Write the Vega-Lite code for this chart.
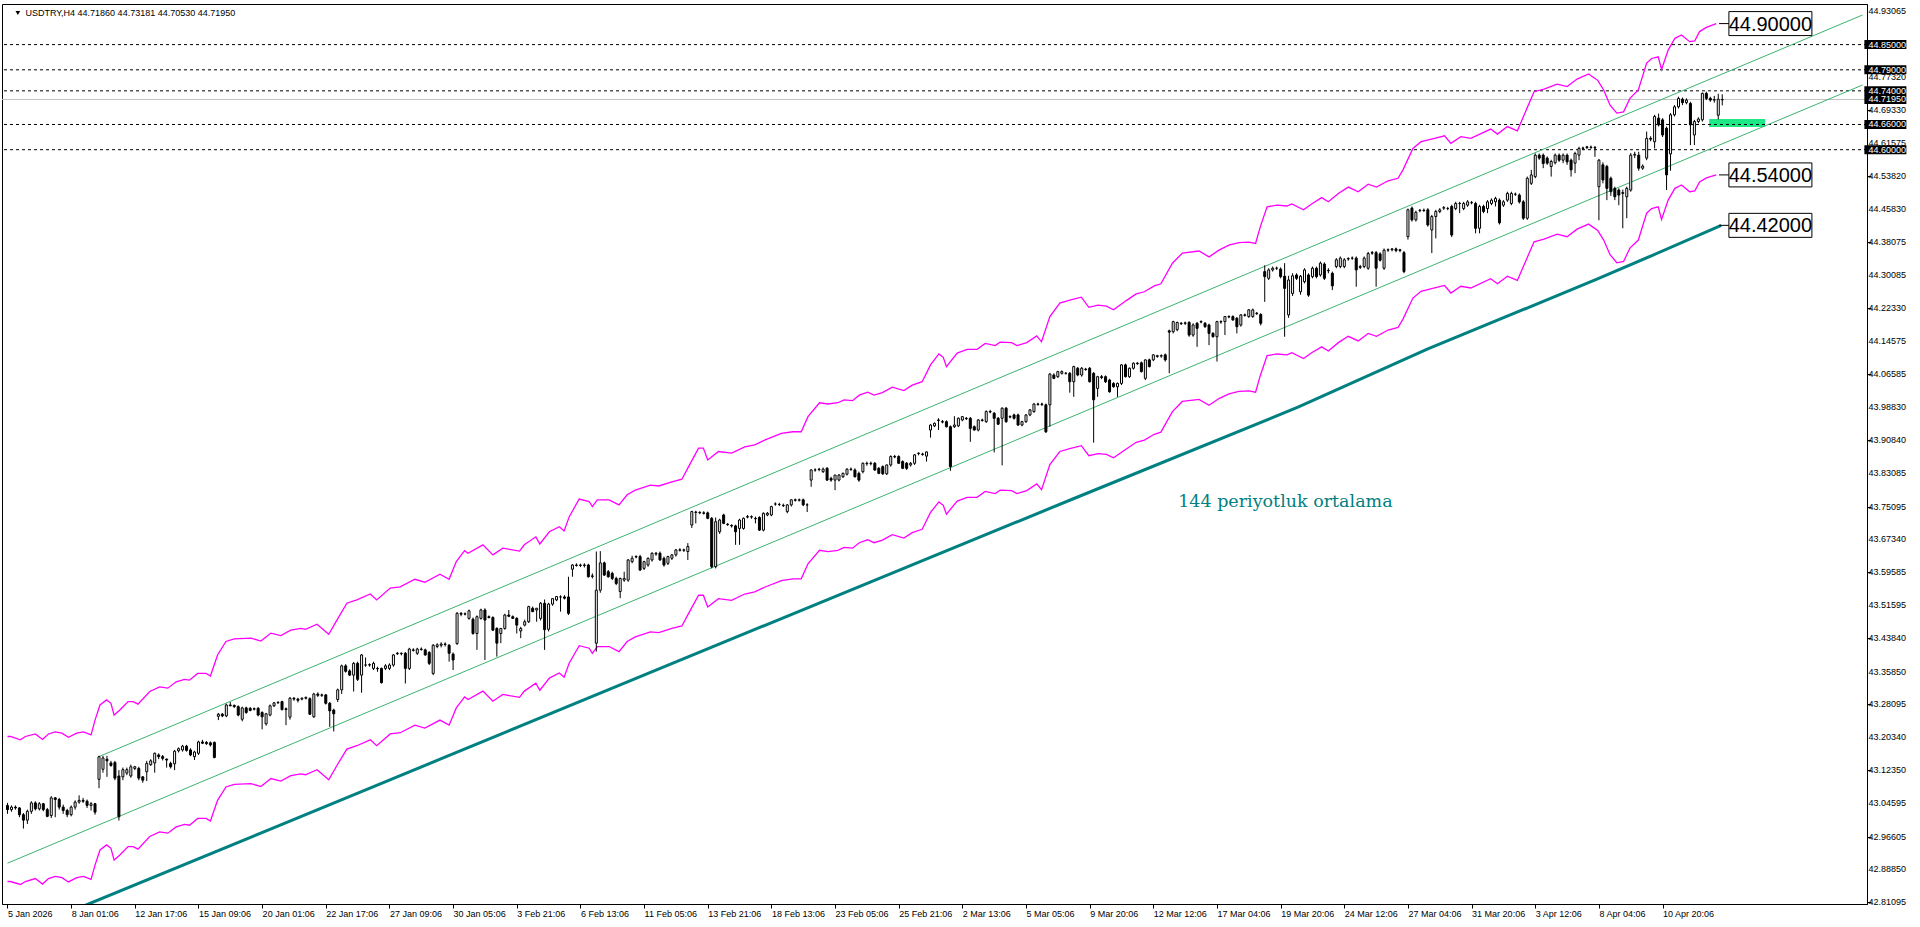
{
"$schema": "https://vega.github.io/schema/vega-lite/v6.json",
"autosize": {"type": "none"},
"width": 1865, "height": 900,
"padding": {"left": 2, "top": 4, "right": 53, "bottom": 23},
"background": "white",
"config": {
  "view": {"stroke": "black", "strokeWidth": 1},
  "axis": {"labelFont": "Liberation Sans", "labelFontSize": 9, "labelColor": "black", "tickColor": "black", "domainColor": "black", "grid": false, "tickSize": 4, "labelOverlap": false, "labelFlush": false}
},
"datasets": {
"k": [
{"n":0,"o":43.040,"h":43.046,"l":43.020,"c":43.030},{"n":1,"o":43.030,"h":43.040,"l":43.025,"c":43.036},{"n":2,"o":43.036,"h":43.040,"l":43.030,"c":43.034},{"n":3,"o":43.034,"h":43.036,"l":43.012,"c":43.018},{"n":4,"o":43.018,"h":43.022,"l":42.985,"c":43.005},{"n":5,"o":43.005,"h":43.030,"l":42.996,"c":43.026},{"n":6,"o":43.026,"h":43.050,"l":43.020,"c":43.046},{"n":7,"o":43.046,"h":43.050,"l":43.028,"c":43.032},{"n":8,"o":43.032,"h":43.048,"l":43.028,"c":43.044},{"n":9,"o":43.044,"h":43.046,"l":43.026,"c":43.030},
{"n":10,"o":43.030,"h":43.034,"l":43.012,"c":43.014},{"n":11,"o":43.016,"h":43.062,"l":43.010,"c":43.058},{"n":12,"o":43.058,"h":43.060,"l":43.012,"c":43.054},{"n":13,"o":43.054,"h":43.058,"l":43.030,"c":43.036},{"n":14,"o":43.036,"h":43.042,"l":43.020,"c":43.028},{"n":15,"o":43.028,"h":43.032,"l":43.012,"c":43.018},{"n":16,"o":43.018,"h":43.040,"l":43.014,"c":43.036},{"n":17,"o":43.036,"h":43.052,"l":43.030,"c":43.048},{"n":18,"o":43.048,"h":43.064,"l":43.044,"c":43.052},{"n":19,"o":43.052,"h":43.058,"l":43.046,"c":43.050},
{"n":20,"o":43.050,"h":43.054,"l":43.034,"c":43.040},{"n":21,"o":43.040,"h":43.048,"l":43.028,"c":43.044},{"n":22,"o":43.044,"h":43.046,"l":43.018,"c":43.024},{"n":23,"o":43.102,"h":43.158,"l":43.081,"c":43.156},{"n":24,"o":43.126,"h":43.158,"l":43.118,"c":43.153},{"n":25,"o":43.150,"h":43.158,"l":43.108,"c":43.146},{"n":26,"o":43.141,"h":43.146,"l":43.132,"c":43.135},{"n":27,"o":43.142,"h":43.146,"l":43.100,"c":43.105},{"n":28,"o":43.110,"h":43.124,"l":43.004,"c":43.013},{"n":29,"o":43.108,"h":43.130,"l":43.100,"c":43.125},
{"n":30,"o":43.117,"h":43.130,"l":43.112,"c":43.125},{"n":31,"o":43.110,"h":43.137,"l":43.106,"c":43.132},{"n":32,"o":43.128,"h":43.134,"l":43.124,"c":43.132},{"n":33,"o":43.128,"h":43.132,"l":43.100,"c":43.105},{"n":34,"o":43.108,"h":43.110,"l":43.094,"c":43.100},{"n":35,"o":43.120,"h":43.146,"l":43.098,"c":43.140},{"n":36,"o":43.137,"h":43.150,"l":43.134,"c":43.146},{"n":37,"o":43.141,"h":43.166,"l":43.118,"c":43.164},{"n":38,"o":43.160,"h":43.164,"l":43.150,"c":43.156},{"n":39,"o":43.156,"h":43.160,"l":43.147,"c":43.152},
{"n":40,"o":43.150,"h":43.152,"l":43.130,"c":43.148},{"n":41,"o":43.140,"h":43.144,"l":43.128,"c":43.132},{"n":42,"o":43.139,"h":43.172,"l":43.124,"c":43.169},{"n":43,"o":43.170,"h":43.178,"l":43.166,"c":43.175},{"n":44,"o":43.172,"h":43.184,"l":43.168,"c":43.181},{"n":45,"o":43.181,"h":43.184,"l":43.168,"c":43.171},{"n":46,"o":43.172,"h":43.176,"l":43.157,"c":43.160},{"n":47,"o":43.156,"h":43.170,"l":43.148,"c":43.167},{"n":48,"o":43.164,"h":43.194,"l":43.160,"c":43.191},{"n":49,"o":43.191,"h":43.196,"l":43.186,"c":43.188},
{"n":50,"o":43.190,"h":43.193,"l":43.184,"c":43.187},{"n":51,"o":43.189,"h":43.192,"l":43.180,"c":43.184},{"n":52,"o":43.190,"h":43.192,"l":43.152,"c":43.154},{"n":53,"o":43.252,"h":43.260,"l":43.243,"c":43.257},{"n":54,"o":43.257,"h":43.260,"l":43.250,"c":43.253},{"n":55,"o":43.253,"h":43.282,"l":43.250,"c":43.279},{"n":56,"o":43.279,"h":43.286,"l":43.276,"c":43.277},{"n":57,"o":43.278,"h":43.280,"l":43.272,"c":43.275},{"n":58,"o":43.275,"h":43.278,"l":43.252,"c":43.255},{"n":59,"o":43.245,"h":43.275,"l":43.240,"c":43.272},
{"n":60,"o":43.272,"h":43.275,"l":43.258,"c":43.261},{"n":61,"o":43.271,"h":43.274,"l":43.264,"c":43.266},{"n":62,"o":43.270,"h":43.273,"l":43.266,"c":43.269},{"n":63,"o":43.271,"h":43.274,"l":43.252,"c":43.255},{"n":64,"o":43.261,"h":43.264,"l":43.221,"c":43.251},{"n":65,"o":43.234,"h":43.260,"l":43.230,"c":43.258},{"n":66,"o":43.255,"h":43.280,"l":43.252,"c":43.277},{"n":67,"o":43.277,"h":43.286,"l":43.274,"c":43.284},{"n":68,"o":43.285,"h":43.288,"l":43.282,"c":43.284},{"n":69,"o":43.287,"h":43.289,"l":43.266,"c":43.268},
{"n":70,"o":43.270,"h":43.273,"l":43.231,"c":43.268},{"n":71,"o":43.250,"h":43.298,"l":43.244,"c":43.295},{"n":72,"o":43.295,"h":43.298,"l":43.289,"c":43.293},{"n":73,"o":43.293,"h":43.296,"l":43.285,"c":43.290},{"n":74,"o":43.293,"h":43.297,"l":43.290,"c":43.295},{"n":75,"o":43.295,"h":43.299,"l":43.292,"c":43.297},{"n":76,"o":43.294,"h":43.297,"l":43.255,"c":43.257},{"n":77,"o":43.251,"h":43.308,"l":43.248,"c":43.305},{"n":78,"o":43.305,"h":43.309,"l":43.298,"c":43.302},{"n":79,"o":43.302,"h":43.306,"l":43.298,"c":43.303},
{"n":80,"o":43.303,"h":43.305,"l":43.280,"c":43.283},{"n":81,"o":43.283,"h":43.286,"l":43.227,"c":43.265},{"n":82,"o":43.267,"h":43.270,"l":43.216,"c":43.258},{"n":83,"o":43.292,"h":43.318,"l":43.286,"c":43.315},{"n":84,"o":43.315,"h":43.375,"l":43.305,"c":43.372},{"n":85,"o":43.372,"h":43.376,"l":43.356,"c":43.359},{"n":86,"o":43.360,"h":43.364,"l":43.348,"c":43.350},{"n":87,"o":43.350,"h":43.381,"l":43.311,"c":43.378},{"n":88,"o":43.378,"h":43.382,"l":43.336,"c":43.340},{"n":89,"o":43.350,"h":43.400,"l":43.308,"c":43.398},
{"n":90,"o":43.374,"h":43.392,"l":43.370,"c":43.374},{"n":91,"o":43.374,"h":43.378,"l":43.370,"c":43.375},{"n":92,"o":43.366,"h":43.382,"l":43.362,"c":43.378},{"n":93,"o":43.366,"h":43.370,"l":43.358,"c":43.365},{"n":94,"o":43.366,"h":43.368,"l":43.330,"c":43.332},{"n":95,"o":43.366,"h":43.376,"l":43.362,"c":43.372},{"n":96,"o":43.366,"h":43.378,"l":43.362,"c":43.374},{"n":97,"o":43.374,"h":43.400,"l":43.370,"c":43.398},{"n":98,"o":43.402,"h":43.405,"l":43.398,"c":43.401},{"n":99,"o":43.401,"h":43.404,"l":43.397,"c":43.402},
{"n":100,"o":43.402,"h":43.405,"l":43.330,"c":43.366},{"n":101,"o":43.366,"h":43.415,"l":43.362,"c":43.412},{"n":102,"o":43.410,"h":43.414,"l":43.406,"c":43.409},{"n":103,"o":43.402,"h":43.415,"l":43.398,"c":43.412},{"n":104,"o":43.412,"h":43.416,"l":43.408,"c":43.411},{"n":105,"o":43.410,"h":43.413,"l":43.396,"c":43.398},{"n":106,"o":43.404,"h":43.407,"l":43.374,"c":43.378},{"n":107,"o":43.354,"h":43.424,"l":43.350,"c":43.421},{"n":108,"o":43.418,"h":43.426,"l":43.414,"c":43.422},{"n":109,"o":43.421,"h":43.428,"l":43.416,"c":43.424},
{"n":110,"o":43.424,"h":43.428,"l":43.418,"c":43.423},{"n":111,"o":43.421,"h":43.424,"l":43.382,"c":43.402},{"n":112,"o":43.400,"h":43.404,"l":43.362,"c":43.386},{"n":113,"o":43.425,"h":43.500,"l":43.422,"c":43.497},{"n":114,"o":43.497,"h":43.500,"l":43.490,"c":43.495},{"n":115,"o":43.495,"h":43.499,"l":43.492,"c":43.496},{"n":116,"o":43.485,"h":43.506,"l":43.482,"c":43.503},{"n":117,"o":43.483,"h":43.487,"l":43.446,"c":43.449},{"n":118,"o":43.449,"h":43.492,"l":43.410,"c":43.489},{"n":119,"o":43.485,"h":43.508,"l":43.482,"c":43.505},
{"n":120,"o":43.505,"h":43.509,"l":43.386,"c":43.481},{"n":121,"o":43.489,"h":43.492,"l":43.485,"c":43.487},{"n":122,"o":43.487,"h":43.490,"l":43.455,"c":43.457},{"n":123,"o":43.461,"h":43.464,"l":43.394,"c":43.426},{"n":124,"o":43.449,"h":43.462,"l":43.426,"c":43.461},{"n":125,"o":43.461,"h":43.496,"l":43.458,"c":43.493},{"n":126,"o":43.493,"h":43.505,"l":43.488,"c":43.490},{"n":127,"o":43.489,"h":43.492,"l":43.484,"c":43.485},{"n":128,"o":43.485,"h":43.488,"l":43.449,"c":43.469},{"n":129,"o":43.455,"h":43.465,"l":43.438,"c":43.461},
{"n":130,"o":43.469,"h":43.482,"l":43.466,"c":43.477},{"n":131,"o":43.477,"h":43.515,"l":43.474,"c":43.513},{"n":132,"o":43.509,"h":43.513,"l":43.500,"c":43.501},{"n":133,"o":43.505,"h":43.510,"l":43.477,"c":43.509},{"n":134,"o":43.485,"h":43.524,"l":43.480,"c":43.521},{"n":135,"o":43.521,"h":43.530,"l":43.410,"c":43.458},{"n":136,"o":43.459,"h":43.522,"l":43.454,"c":43.519},{"n":137,"o":43.519,"h":43.533,"l":43.515,"c":43.532},{"n":138,"o":43.529,"h":43.538,"l":43.526,"c":43.537},{"n":139,"o":43.536,"h":43.540,"l":43.501,"c":43.536},
{"n":140,"o":43.536,"h":43.540,"l":43.530,"c":43.533},{"n":141,"o":43.536,"h":43.584,"l":43.493,"c":43.497},{"n":142,"o":43.602,"h":43.614,"l":43.584,"c":43.612},{"n":143,"o":43.612,"h":43.616,"l":43.608,"c":43.611},{"n":144,"o":43.611,"h":43.615,"l":43.607,"c":43.612},{"n":145,"o":43.612,"h":43.616,"l":43.606,"c":43.611},{"n":146,"o":43.612,"h":43.615,"l":43.582,"c":43.584},{"n":147,"o":43.586,"h":43.592,"l":43.580,"c":43.585},{"n":148,"o":43.426,"h":43.644,"l":43.406,"c":43.552},{"n":149,"o":43.552,"h":43.645,"l":43.546,"c":43.617},
{"n":150,"o":43.617,"h":43.620,"l":43.586,"c":43.588},{"n":151,"o":43.596,"h":43.600,"l":43.582,"c":43.584},{"n":152,"o":43.592,"h":43.596,"l":43.576,"c":43.580},{"n":153,"o":43.580,"h":43.584,"l":43.564,"c":43.568},{"n":154,"o":43.549,"h":43.582,"l":43.533,"c":43.580},{"n":155,"o":43.576,"h":43.596,"l":43.572,"c":43.580},{"n":156,"o":43.576,"h":43.626,"l":43.572,"c":43.624},{"n":157,"o":43.620,"h":43.634,"l":43.616,"c":43.628},{"n":158,"o":43.632,"h":43.635,"l":43.628,"c":43.631},{"n":159,"o":43.632,"h":43.636,"l":43.598,"c":43.600},
{"n":160,"o":43.604,"h":43.622,"l":43.600,"c":43.620},{"n":161,"o":43.612,"h":43.630,"l":43.608,"c":43.628},{"n":162,"o":43.624,"h":43.642,"l":43.620,"c":43.640},{"n":163,"o":43.638,"h":43.643,"l":43.634,"c":43.640},{"n":164,"o":43.640,"h":43.644,"l":43.622,"c":43.624},{"n":165,"o":43.628,"h":43.632,"l":43.608,"c":43.612},{"n":166,"o":43.616,"h":43.634,"l":43.612,"c":43.632},{"n":167,"o":43.628,"h":43.638,"l":43.624,"c":43.636},{"n":168,"o":43.636,"h":43.650,"l":43.632,"c":43.648},{"n":169,"o":43.648,"h":43.652,"l":43.644,"c":43.647},
{"n":170,"o":43.647,"h":43.651,"l":43.643,"c":43.648},{"n":171,"o":43.644,"h":43.664,"l":43.624,"c":43.656},{"n":172,"o":43.707,"h":43.741,"l":43.700,"c":43.739},{"n":173,"o":43.737,"h":43.741,"l":43.711,"c":43.738},{"n":174,"o":43.737,"h":43.740,"l":43.733,"c":43.736},{"n":175,"o":43.736,"h":43.740,"l":43.732,"c":43.735},{"n":176,"o":43.736,"h":43.739,"l":43.721,"c":43.723},{"n":177,"o":43.723,"h":43.726,"l":43.604,"c":43.608},{"n":178,"o":43.608,"h":43.725,"l":43.604,"c":43.715},{"n":179,"o":43.691,"h":43.722,"l":43.686,"c":43.719},
{"n":180,"o":43.731,"h":43.734,"l":43.709,"c":43.711},{"n":181,"o":43.709,"h":43.712,"l":43.705,"c":43.708},{"n":182,"o":43.706,"h":43.709,"l":43.701,"c":43.705},{"n":183,"o":43.705,"h":43.708,"l":43.660,"c":43.691},{"n":184,"o":43.699,"h":43.722,"l":43.660,"c":43.719},{"n":185,"o":43.699,"h":43.725,"l":43.696,"c":43.723},{"n":186,"o":43.727,"h":43.731,"l":43.723,"c":43.726},{"n":187,"o":43.726,"h":43.730,"l":43.722,"c":43.727},{"n":188,"o":43.723,"h":43.727,"l":43.711,"c":43.722},{"n":189,"o":43.725,"h":43.728,"l":43.693,"c":43.695},
{"n":190,"o":43.695,"h":43.737,"l":43.692,"c":43.735},{"n":191,"o":43.731,"h":43.738,"l":43.728,"c":43.735},{"n":192,"o":43.731,"h":43.753,"l":43.728,"c":43.751},{"n":193,"o":43.757,"h":43.761,"l":43.753,"c":43.757},{"n":194,"o":43.756,"h":43.760,"l":43.752,"c":43.756},{"n":195,"o":43.754,"h":43.758,"l":43.750,"c":43.753},{"n":196,"o":43.739,"h":43.757,"l":43.735,"c":43.755},{"n":197,"o":43.755,"h":43.768,"l":43.751,"c":43.767},{"n":198,"o":43.767,"h":43.770,"l":43.763,"c":43.766},{"n":199,"o":43.766,"h":43.770,"l":43.763,"c":43.767},
{"n":200,"o":43.767,"h":43.770,"l":43.752,"c":43.755},{"n":201,"o":43.755,"h":43.759,"l":43.738,"c":43.755},{"n":202,"o":43.814,"h":43.840,"l":43.798,"c":43.838},{"n":203,"o":43.838,"h":43.842,"l":43.834,"c":43.838},{"n":204,"o":43.839,"h":43.843,"l":43.835,"c":43.840},{"n":205,"o":43.834,"h":43.844,"l":43.831,"c":43.840},{"n":206,"o":43.842,"h":43.845,"l":43.812,"c":43.814},{"n":207,"o":43.818,"h":43.822,"l":43.810,"c":43.814},{"n":208,"o":43.814,"h":43.826,"l":43.790,"c":43.826},{"n":209,"o":43.814,"h":43.828,"l":43.811,"c":43.826},
{"n":210,"o":43.822,"h":43.832,"l":43.819,"c":43.830},{"n":211,"o":43.828,"h":43.842,"l":43.825,"c":43.840},{"n":212,"o":43.840,"h":43.844,"l":43.836,"c":43.839},{"n":213,"o":43.838,"h":43.842,"l":43.820,"c":43.822},{"n":214,"o":43.830,"h":43.834,"l":43.810,"c":43.814},{"n":215,"o":43.834,"h":43.856,"l":43.830,"c":43.854},{"n":216,"o":43.854,"h":43.858,"l":43.848,"c":43.853},{"n":217,"o":43.853,"h":43.858,"l":43.849,"c":43.854},{"n":218,"o":43.854,"h":43.857,"l":43.836,"c":43.838},{"n":219,"o":43.842,"h":43.845,"l":43.828,"c":43.830},
{"n":220,"o":43.846,"h":43.849,"l":43.826,"c":43.829},{"n":221,"o":43.829,"h":43.851,"l":43.826,"c":43.850},{"n":222,"o":43.850,"h":43.873,"l":43.846,"c":43.870},{"n":223,"o":43.870,"h":43.874,"l":43.866,"c":43.869},{"n":224,"o":43.870,"h":43.873,"l":43.852,"c":43.854},{"n":225,"o":43.858,"h":43.861,"l":43.840,"c":43.842},{"n":226,"o":43.854,"h":43.857,"l":43.838,"c":43.842},{"n":227,"o":43.850,"h":43.857,"l":43.846,"c":43.854},{"n":228,"o":43.854,"h":43.876,"l":43.850,"c":43.874},{"n":229,"o":43.877,"h":43.880,"l":43.873,"c":43.878},
{"n":230,"o":43.876,"h":43.879,"l":43.872,"c":43.875},{"n":231,"o":43.871,"h":43.882,"l":43.858,"c":43.881},{"n":232,"o":43.933,"h":43.947,"l":43.915,"c":43.945},{"n":233,"o":43.943,"h":43.951,"l":43.940,"c":43.949},{"n":234,"o":43.957,"h":43.961,"l":43.933,"c":43.956},{"n":235,"o":43.953,"h":43.957,"l":43.949,"c":43.952},{"n":236,"o":43.953,"h":43.956,"l":43.939,"c":43.941},{"n":237,"o":43.941,"h":43.944,"l":43.836,"c":43.846},{"n":238,"o":43.941,"h":43.966,"l":43.938,"c":43.945},{"n":239,"o":43.943,"h":43.963,"l":43.940,"c":43.961},
{"n":240,"o":43.957,"h":43.966,"l":43.954,"c":43.965},{"n":241,"o":43.961,"h":43.964,"l":43.957,"c":43.960},{"n":242,"o":43.961,"h":43.964,"l":43.905,"c":43.937},{"n":243,"o":43.941,"h":43.944,"l":43.932,"c":43.933},{"n":244,"o":43.933,"h":43.959,"l":43.930,"c":43.957},{"n":245,"o":43.957,"h":43.960,"l":43.953,"c":43.956},{"n":246,"o":43.953,"h":43.980,"l":43.950,"c":43.977},{"n":247,"o":43.977,"h":43.981,"l":43.973,"c":43.976},{"n":248,"o":43.973,"h":43.976,"l":43.880,"c":43.961},{"n":249,"o":43.961,"h":43.964,"l":43.945,"c":43.947},
{"n":250,"o":43.961,"h":43.987,"l":43.849,"c":43.985},{"n":251,"o":43.985,"h":43.988,"l":43.950,"c":43.953},{"n":252,"o":43.965,"h":43.968,"l":43.961,"c":43.964},{"n":253,"o":43.969,"h":43.972,"l":43.958,"c":43.961},{"n":254,"o":43.969,"h":43.972,"l":43.943,"c":43.945},{"n":255,"o":43.945,"h":43.955,"l":43.942,"c":43.953},{"n":256,"o":43.953,"h":43.971,"l":43.950,"c":43.969},{"n":257,"o":43.969,"h":43.983,"l":43.966,"c":43.981},{"n":258,"o":43.977,"h":43.997,"l":43.974,"c":43.995},{"n":259,"o":43.995,"h":43.998,"l":43.991,"c":43.994},
{"n":260,"o":43.994,"h":43.998,"l":43.990,"c":43.995},{"n":261,"o":43.993,"h":43.996,"l":43.926,"c":43.929},{"n":262,"o":43.993,"h":44.069,"l":43.941,"c":44.066},{"n":263,"o":44.064,"h":44.068,"l":44.054,"c":44.056},{"n":264,"o":44.060,"h":44.074,"l":44.057,"c":44.072},{"n":265,"o":44.068,"h":44.075,"l":44.065,"c":44.072},{"n":266,"o":44.068,"h":44.071,"l":44.065,"c":44.068},{"n":267,"o":44.068,"h":44.071,"l":44.022,"c":44.048},{"n":268,"o":44.048,"h":44.086,"l":44.012,"c":44.084},{"n":269,"o":44.080,"h":44.083,"l":44.061,"c":44.064},
{"n":270,"o":44.064,"h":44.083,"l":44.060,"c":44.080},{"n":271,"o":44.078,"h":44.081,"l":44.074,"c":44.077},{"n":272,"o":44.080,"h":44.083,"l":44.046,"c":44.048},{"n":273,"o":44.068,"h":44.071,"l":43.903,"c":44.005},{"n":274,"o":44.032,"h":44.062,"l":44.012,"c":44.060},{"n":275,"o":44.060,"h":44.064,"l":44.054,"c":44.058},{"n":276,"o":44.060,"h":44.063,"l":44.045,"c":44.048},{"n":277,"o":44.052,"h":44.055,"l":44.022,"c":44.024},{"n":278,"o":44.044,"h":44.047,"l":44.034,"c":44.036},{"n":279,"o":44.036,"h":44.046,"l":44.012,"c":44.044},
{"n":280,"o":44.044,"h":44.090,"l":44.040,"c":44.088},{"n":281,"o":44.088,"h":44.091,"l":44.058,"c":44.060},{"n":282,"o":44.060,"h":44.082,"l":44.057,"c":44.080},{"n":283,"o":44.080,"h":44.094,"l":44.077,"c":44.092},{"n":284,"o":44.092,"h":44.095,"l":44.088,"c":44.091},{"n":285,"o":44.093,"h":44.096,"l":44.070,"c":44.072},{"n":286,"o":44.056,"h":44.101,"l":44.052,"c":44.100},{"n":287,"o":44.100,"h":44.103,"l":44.082,"c":44.084},{"n":288,"o":44.100,"h":44.113,"l":44.097,"c":44.112},{"n":289,"o":44.108,"h":44.112,"l":44.105,"c":44.110},
{"n":290,"o":44.109,"h":44.113,"l":44.105,"c":44.110},{"n":291,"o":44.112,"h":44.115,"l":44.096,"c":44.100},{"n":292,"o":44.169,"h":44.172,"l":44.068,"c":44.166},{"n":293,"o":44.167,"h":44.193,"l":44.163,"c":44.191},{"n":294,"o":44.172,"h":44.191,"l":44.168,"c":44.189},{"n":295,"o":44.187,"h":44.190,"l":44.183,"c":44.186},{"n":296,"o":44.187,"h":44.191,"l":44.183,"c":44.188},{"n":297,"o":44.189,"h":44.192,"l":44.155,"c":44.159},{"n":298,"o":44.159,"h":44.187,"l":44.155,"c":44.183},{"n":299,"o":44.187,"h":44.190,"l":44.131,"c":44.175},
{"n":300,"o":44.191,"h":44.194,"l":44.187,"c":44.190},{"n":301,"o":44.187,"h":44.190,"l":44.176,"c":44.179},{"n":302,"o":44.183,"h":44.186,"l":44.135,"c":44.163},{"n":303,"o":44.163,"h":44.166,"l":44.153,"c":44.155},{"n":304,"o":44.155,"h":44.193,"l":44.096,"c":44.191},{"n":305,"o":44.191,"h":44.194,"l":44.186,"c":44.190},{"n":306,"o":44.191,"h":44.204,"l":44.159,"c":44.203},{"n":307,"o":44.203,"h":44.206,"l":44.199,"c":44.202},{"n":308,"o":44.203,"h":44.206,"l":44.193,"c":44.195},{"n":309,"o":44.199,"h":44.202,"l":44.163,"c":44.179},
{"n":310,"o":44.183,"h":44.209,"l":44.179,"c":44.207},{"n":311,"o":44.207,"h":44.210,"l":44.203,"c":44.206},{"n":312,"o":44.203,"h":44.221,"l":44.200,"c":44.219},{"n":313,"o":44.203,"h":44.222,"l":44.200,"c":44.219},{"n":314,"o":44.211,"h":44.214,"l":44.207,"c":44.210},{"n":315,"o":44.208,"h":44.211,"l":44.182,"c":44.187},{"n":316,"o":44.310,"h":44.325,"l":44.238,"c":44.298},{"n":317,"o":44.294,"h":44.318,"l":44.290,"c":44.314},{"n":318,"o":44.314,"h":44.322,"l":44.310,"c":44.318},{"n":319,"o":44.318,"h":44.322,"l":44.314,"c":44.318},
{"n":320,"o":44.316,"h":44.320,"l":44.294,"c":44.298},{"n":321,"o":44.299,"h":44.330,"l":44.155,"c":44.270},{"n":322,"o":44.207,"h":44.300,"l":44.200,"c":44.290},{"n":323,"o":44.258,"h":44.306,"l":44.252,"c":44.300},{"n":324,"o":44.302,"h":44.306,"l":44.290,"c":44.294},{"n":325,"o":44.262,"h":44.302,"l":44.255,"c":44.299},{"n":326,"o":44.286,"h":44.318,"l":44.282,"c":44.314},{"n":327,"o":44.302,"h":44.306,"l":44.250,"c":44.254},{"n":328,"o":44.298,"h":44.322,"l":44.294,"c":44.318},{"n":329,"o":44.318,"h":44.322,"l":44.294,"c":44.298},
{"n":330,"o":44.302,"h":44.334,"l":44.298,"c":44.330},{"n":331,"o":44.328,"h":44.332,"l":44.290,"c":44.294},{"n":332,"o":44.312,"h":44.318,"l":44.306,"c":44.313},{"n":333,"o":44.306,"h":44.310,"l":44.266,"c":44.276},{"n":334,"o":44.322,"h":44.342,"l":44.318,"c":44.338},{"n":335,"o":44.322,"h":44.346,"l":44.318,"c":44.342},{"n":336,"o":44.322,"h":44.342,"l":44.318,"c":44.338},{"n":337,"o":44.340,"h":44.344,"l":44.336,"c":44.341},{"n":338,"o":44.342,"h":44.346,"l":44.338,"c":44.342},{"n":339,"o":44.342,"h":44.346,"l":44.274,"c":44.314},
{"n":340,"o":44.320,"h":44.326,"l":44.316,"c":44.322},{"n":341,"o":44.322,"h":44.346,"l":44.318,"c":44.342},{"n":342,"o":44.318,"h":44.357,"l":44.314,"c":44.353},{"n":343,"o":44.355,"h":44.359,"l":44.350,"c":44.354},{"n":344,"o":44.355,"h":44.359,"l":44.274,"c":44.318},{"n":345,"o":44.352,"h":44.356,"l":44.334,"c":44.337},{"n":346,"o":44.318,"h":44.365,"l":44.314,"c":44.361},{"n":347,"o":44.361,"h":44.365,"l":44.357,"c":44.362},{"n":348,"o":44.362,"h":44.366,"l":44.358,"c":44.364},{"n":349,"o":44.364,"h":44.367,"l":44.356,"c":44.360},
{"n":350,"o":44.360,"h":44.364,"l":44.356,"c":44.362},{"n":351,"o":44.355,"h":44.359,"l":44.306,"c":44.310},{"n":352,"o":44.393,"h":44.460,"l":44.386,"c":44.457},{"n":353,"o":44.461,"h":44.465,"l":44.429,"c":44.433},{"n":354,"o":44.433,"h":44.455,"l":44.429,"c":44.451},{"n":355,"o":44.455,"h":44.459,"l":44.451,"c":44.456},{"n":356,"o":44.456,"h":44.460,"l":44.452,"c":44.455},{"n":357,"o":44.457,"h":44.461,"l":44.417,"c":44.421},{"n":358,"o":44.409,"h":44.445,"l":44.354,"c":44.441},{"n":359,"o":44.441,"h":44.457,"l":44.389,"c":44.453},
{"n":360,"o":44.453,"h":44.461,"l":44.449,"c":44.457},{"n":361,"o":44.461,"h":44.466,"l":44.457,"c":44.462},{"n":362,"o":44.460,"h":44.464,"l":44.456,"c":44.460},{"n":363,"o":44.465,"h":44.469,"l":44.392,"c":44.397},{"n":364,"o":44.460,"h":44.476,"l":44.456,"c":44.472},{"n":365,"o":44.472,"h":44.476,"l":44.449,"c":44.472},{"n":366,"o":44.460,"h":44.476,"l":44.456,"c":44.472},{"n":367,"o":44.468,"h":44.480,"l":44.464,"c":44.476},{"n":368,"o":44.474,"h":44.478,"l":44.470,"c":44.474},{"n":369,"o":44.472,"h":44.476,"l":44.401,"c":44.413},
{"n":370,"o":44.413,"h":44.469,"l":44.401,"c":44.465},{"n":371,"o":44.465,"h":44.469,"l":44.449,"c":44.453},{"n":372,"o":44.460,"h":44.480,"l":44.449,"c":44.476},{"n":373,"o":44.472,"h":44.484,"l":44.468,"c":44.480},{"n":374,"o":44.476,"h":44.488,"l":44.465,"c":44.484},{"n":375,"o":44.480,"h":44.484,"l":44.422,"c":44.426},{"n":376,"o":44.468,"h":44.480,"l":44.464,"c":44.476},{"n":377,"o":44.480,"h":44.500,"l":44.476,"c":44.496},{"n":378,"o":44.472,"h":44.500,"l":44.468,"c":44.496},{"n":379,"o":44.494,"h":44.498,"l":44.490,"c":44.494},
{"n":380,"o":44.492,"h":44.496,"l":44.472,"c":44.476},{"n":381,"o":44.476,"h":44.480,"l":44.433,"c":44.437},{"n":382,"o":44.437,"h":44.536,"l":44.433,"c":44.532},{"n":383,"o":44.520,"h":44.552,"l":44.516,"c":44.540},{"n":384,"o":44.536,"h":44.591,"l":44.532,"c":44.587},{"n":385,"o":44.587,"h":44.591,"l":44.576,"c":44.580},{"n":386,"o":44.587,"h":44.591,"l":44.556,"c":44.567},{"n":387,"o":44.580,"h":44.584,"l":44.564,"c":44.568},{"n":388,"o":44.560,"h":44.576,"l":44.536,"c":44.572},{"n":389,"o":44.569,"h":44.591,"l":44.565,"c":44.587},
{"n":390,"o":44.587,"h":44.591,"l":44.571,"c":44.575},{"n":391,"o":44.575,"h":44.591,"l":44.568,"c":44.587},{"n":392,"o":44.587,"h":44.591,"l":44.564,"c":44.571},{"n":393,"o":44.575,"h":44.579,"l":44.536,"c":44.552},{"n":394,"o":44.568,"h":44.595,"l":44.544,"c":44.591},{"n":395,"o":44.587,"h":44.607,"l":44.575,"c":44.603},{"n":396,"o":44.603,"h":44.607,"l":44.599,"c":44.604},{"n":397,"o":44.605,"h":44.609,"l":44.601,"c":44.607},{"n":398,"o":44.606,"h":44.610,"l":44.602,"c":44.605},{"n":399,"o":44.605,"h":44.609,"l":44.583,"c":44.604},
{"n":400,"o":44.512,"h":44.578,"l":44.432,"c":44.575},{"n":401,"o":44.564,"h":44.570,"l":44.520,"c":44.528},{"n":402,"o":44.560,"h":44.564,"l":44.480,"c":44.508},{"n":403,"o":44.532,"h":44.536,"l":44.490,"c":44.500},{"n":404,"o":44.508,"h":44.512,"l":44.480,"c":44.488},{"n":405,"o":44.504,"h":44.508,"l":44.468,"c":44.492},{"n":406,"o":44.496,"h":44.505,"l":44.413,"c":44.498},{"n":407,"o":44.488,"h":44.512,"l":44.437,"c":44.508},{"n":408,"o":44.504,"h":44.592,"l":44.500,"c":44.587},{"n":409,"o":44.587,"h":44.595,"l":44.580,"c":44.589},
{"n":410,"o":44.587,"h":44.595,"l":44.550,"c":44.556},{"n":411,"o":44.556,"h":44.565,"l":44.552,"c":44.561},{"n":412,"o":44.580,"h":44.643,"l":44.575,"c":44.627},{"n":413,"o":44.627,"h":44.632,"l":44.620,"c":44.625},{"n":414,"o":44.619,"h":44.683,"l":44.603,"c":44.679},{"n":415,"o":44.675,"h":44.686,"l":44.655,"c":44.659},{"n":416,"o":44.671,"h":44.675,"l":44.630,"c":44.635},{"n":417,"o":44.651,"h":44.655,"l":44.504,"c":44.540},{"n":418,"o":44.590,"h":44.687,"l":44.550,"c":44.683},{"n":419,"o":44.683,"h":44.706,"l":44.679,"c":44.702},
{"n":420,"o":44.702,"h":44.726,"l":44.698,"c":44.722},{"n":421,"o":44.720,"h":44.724,"l":44.706,"c":44.712},{"n":422,"o":44.712,"h":44.722,"l":44.708,"c":44.718},{"n":423,"o":44.710,"h":44.714,"l":44.611,"c":44.659},{"n":424,"o":44.635,"h":44.671,"l":44.611,"c":44.667},{"n":425,"o":44.667,"h":44.677,"l":44.663,"c":44.673},{"n":426,"o":44.671,"h":44.736,"l":44.667,"c":44.734},{"n":427,"o":44.734,"h":44.738,"l":44.718,"c":44.722},{"n":428,"o":44.722,"h":44.726,"l":44.714,"c":44.718},{"n":429,"o":44.718,"h":44.728,"l":44.712,"c":44.719},
{"n":430,"o":44.682,"h":44.733,"l":44.672,"c":44.720},{"n":431,"o":44.7186,"h":44.7318,"l":44.7053,"c":44.7195}
],
"env": [
{"n":0,"u":43.204,"lo":42.859},{"n":0.75,"u":43.204,"lo":42.859},{"n":3.25,"u":43.196,"lo":42.852},{"n":4.5,"u":43.204,"lo":42.859},{"n":7,"u":43.210,"lo":42.866},{"n":8.8,"u":43.197,"lo":42.853},{"n":10.3,"u":43.210,"lo":42.866},{"n":12,"u":43.215,"lo":42.871},{"n":13.7,"u":43.212,"lo":42.868},{"n":15.3,"u":43.202,"lo":42.858},{"n":17.4,"u":43.212,"lo":42.868},{"n":19.1,"u":43.215,"lo":42.871},{"n":21,"u":43.208,"lo":42.864},{"n":22,"u":43.243,"lo":42.898},{"n":23.25,"u":43.279,"lo":42.934},{"n":24.9,"u":43.291,"lo":42.946},{"n":26,"u":43.283,"lo":42.938},{"n":26.8,"u":43.255,"lo":42.910},{"n":28.25,"u":43.267,"lo":42.922},{"n":30.3,"u":43.287,"lo":42.942},{"n":31.6,"u":43.287,"lo":42.942},{"n":32.8,"u":43.281,"lo":42.936},{"n":35.75,"u":43.311,"lo":42.966},{"n":38.25,"u":43.322,"lo":42.977},{"n":40.3,"u":43.319,"lo":42.974},{"n":42.4,"u":43.334,"lo":42.989},{"n":44.5,"u":43.340,"lo":42.995},{"n":45.75,"u":43.338,"lo":42.993},{"n":47.8,"u":43.354,"lo":43.009},{"n":49.9,"u":43.354,"lo":43.009},{"n":51,"u":43.348,"lo":43.003},{"n":52.8,"u":43.398,"lo":43.052},{"n":54.9,"u":43.430,"lo":43.084},{"n":57,"u":43.436,"lo":43.090},{"n":61.2,"u":43.438,"lo":43.092},{"n":63.7,"u":43.431,"lo":43.085},{"n":66.2,"u":43.450,"lo":43.104},{"n":68.7,"u":43.444,"lo":43.098},{"n":71.2,"u":43.457,"lo":43.111},{"n":73.7,"u":43.461,"lo":43.115},{"n":74.9,"u":43.459,"lo":43.113},{"n":77.8,"u":43.471,"lo":43.125},{"n":80.75,"u":43.447,"lo":43.101},{"n":82.8,"u":43.481,"lo":43.135},{"n":85.3,"u":43.521,"lo":43.174},{"n":87.8,"u":43.529,"lo":43.182},{"n":91.2,"u":43.543,"lo":43.196},{"n":92.8,"u":43.529,"lo":43.182},{"n":96.2,"u":43.557,"lo":43.210},{"n":98.7,"u":43.560,"lo":43.213},{"n":102.4,"u":43.578,"lo":43.231},{"n":104.9,"u":43.571,"lo":43.224},{"n":108.7,"u":43.590,"lo":43.243},{"n":111,"u":43.578,"lo":43.231},{"n":112.8,"u":43.620,"lo":43.272},{"n":114.9,"u":43.646,"lo":43.298},{"n":115.75,"u":43.640,"lo":43.292},{"n":119.5,"u":43.660,"lo":43.312},{"n":122,"u":43.636,"lo":43.288},{"n":124.5,"u":43.652,"lo":43.304},{"n":128.7,"u":43.645,"lo":43.297},{"n":129.9,"u":43.660,"lo":43.312},{"n":132.8,"u":43.679,"lo":43.331},{"n":133.8,"u":43.662,"lo":43.314},{"n":136.2,"u":43.691,"lo":43.343},{"n":138.7,"u":43.703,"lo":43.355},{"n":139.9,"u":43.693,"lo":43.345},{"n":141.2,"u":43.727,"lo":43.379},{"n":143.7,"u":43.769,"lo":43.420},{"n":146.2,"u":43.763,"lo":43.414},{"n":147,"u":43.751,"lo":43.402},{"n":148.25,"u":43.767,"lo":43.418},{"n":151.2,"u":43.767,"lo":43.418},{"n":153.7,"u":43.755,"lo":43.406},{"n":155.75,"u":43.779,"lo":43.430},{"n":157.8,"u":43.790,"lo":43.441},{"n":161.6,"u":43.802,"lo":43.453},{"n":163.7,"u":43.800,"lo":43.451},{"n":167,"u":43.810,"lo":43.461},{"n":169.5,"u":43.816,"lo":43.467},{"n":171.2,"u":43.846,"lo":43.497},{"n":173.7,"u":43.890,"lo":43.540},{"n":174.9,"u":43.890,"lo":43.540},{"n":176,"u":43.862,"lo":43.512},{"n":178.7,"u":43.882,"lo":43.532},{"n":182,"u":43.878,"lo":43.528},{"n":185.3,"u":43.893,"lo":43.543},{"n":187.8,"u":43.898,"lo":43.548},{"n":190.3,"u":43.909,"lo":43.559},{"n":194.5,"u":43.925,"lo":43.575},{"n":197.4,"u":43.929,"lo":43.579},{"n":199.5,"u":43.929,"lo":43.579},{"n":201.2,"u":43.965,"lo":43.615},{"n":204.1,"u":43.998,"lo":43.647},{"n":206.2,"u":43.995,"lo":43.644},{"n":208.7,"u":43.998,"lo":43.647},{"n":210.3,"u":44.005,"lo":43.654},{"n":212.4,"u":44.003,"lo":43.652},{"n":214.1,"u":44.016,"lo":43.665},{"n":216.2,"u":44.023,"lo":43.672},{"n":217.8,"u":44.016,"lo":43.665},{"n":219.9,"u":44.022,"lo":43.671},{"n":222.4,"u":44.035,"lo":43.684},{"n":225.3,"u":44.027,"lo":43.676},{"n":227.4,"u":44.040,"lo":43.689},{"n":229.9,"u":44.048,"lo":43.697},{"n":232,"u":44.088,"lo":43.737},{"n":234.1,"u":44.114,"lo":43.762},{"n":235.2,"u":44.106,"lo":43.754},{"n":236,"u":44.084,"lo":43.733},{"n":238.7,"u":44.116,"lo":43.764},{"n":241.2,"u":44.125,"lo":43.773},{"n":243.7,"u":44.125,"lo":43.773},{"n":245.75,"u":44.139,"lo":43.787},{"n":248.25,"u":44.134,"lo":43.782},{"n":249.5,"u":44.142,"lo":43.790},{"n":252.4,"u":44.141,"lo":43.789},{"n":253.7,"u":44.134,"lo":43.782},{"n":256.2,"u":44.141,"lo":43.789},{"n":258.7,"u":44.157,"lo":43.805},{"n":259.9,"u":44.143,"lo":43.791},{"n":262,"u":44.203,"lo":43.851},{"n":264.5,"u":44.235,"lo":43.882},{"n":267,"u":44.242,"lo":43.889},{"n":269.9,"u":44.249,"lo":43.896},{"n":271.8,"u":44.225,"lo":43.872},{"n":274.1,"u":44.230,"lo":43.877},{"n":276.2,"u":44.228,"lo":43.875},{"n":278,"u":44.219,"lo":43.867},{"n":281.2,"u":44.241,"lo":43.888},{"n":283.7,"u":44.257,"lo":43.904},{"n":285.75,"u":44.262,"lo":43.909},{"n":288.25,"u":44.276,"lo":43.923},{"n":289.9,"u":44.281,"lo":43.928},{"n":292.8,"u":44.330,"lo":43.977},{"n":295.3,"u":44.354,"lo":44.001},{"n":299.5,"u":44.359,"lo":44.006},{"n":302,"u":44.345,"lo":43.992},{"n":304.5,"u":44.361,"lo":44.008},{"n":307,"u":44.373,"lo":44.019},{"n":309.5,"u":44.379,"lo":44.025},{"n":312,"u":44.380,"lo":44.026},{"n":313.7,"u":44.377,"lo":44.023},{"n":314.9,"u":44.417,"lo":44.063},{"n":316.6,"u":44.464,"lo":44.110},{"n":319.1,"u":44.468,"lo":44.114},{"n":321.6,"u":44.466,"lo":44.112},{"n":322.8,"u":44.471,"lo":44.117},{"n":325.75,"u":44.457,"lo":44.103},{"n":327.8,"u":44.471,"lo":44.117},{"n":330.3,"u":44.486,"lo":44.131},{"n":332,"u":44.476,"lo":44.121},{"n":334.5,"u":44.496,"lo":44.141},{"n":337,"u":44.511,"lo":44.156},{"n":339.5,"u":44.500,"lo":44.145},{"n":342,"u":44.518,"lo":44.163},{"n":344.1,"u":44.511,"lo":44.156},{"n":347,"u":44.526,"lo":44.171},{"n":349.5,"u":44.532,"lo":44.177},{"n":350.75,"u":44.552,"lo":44.197},{"n":353.25,"u":44.603,"lo":44.247},{"n":355.3,"u":44.619,"lo":44.263},{"n":358.7,"u":44.627,"lo":44.271},{"n":361.2,"u":44.633,"lo":44.277},{"n":362.8,"u":44.615,"lo":44.259},{"n":365.3,"u":44.631,"lo":44.275},{"n":367.8,"u":44.627,"lo":44.271},{"n":372.8,"u":44.649,"lo":44.293},{"n":374.5,"u":44.637,"lo":44.281},{"n":377,"u":44.655,"lo":44.299},{"n":379.5,"u":44.645,"lo":44.289},{"n":383.7,"u":44.738,"lo":44.381},{"n":386.2,"u":44.744,"lo":44.387},{"n":389.5,"u":44.756,"lo":44.399},{"n":392,"u":44.750,"lo":44.393},{"n":394.5,"u":44.768,"lo":44.411},{"n":397.4,"u":44.780,"lo":44.423},{"n":399.7,"u":44.765,"lo":44.408},{"n":401.2,"u":44.742,"lo":44.385},{"n":402.8,"u":44.706,"lo":44.350},{"n":404.5,"u":44.687,"lo":44.331},{"n":406.2,"u":44.690,"lo":44.334},{"n":407.8,"u":44.722,"lo":44.366},{"n":409.9,"u":44.742,"lo":44.385},{"n":412,"u":44.806,"lo":44.449},{"n":413.25,"u":44.817,"lo":44.460},{"n":414.9,"u":44.821,"lo":44.464},{"n":415.75,"u":44.791,"lo":44.434},{"n":417.4,"u":44.837,"lo":44.480},{"n":419.1,"u":44.865,"lo":44.508},{"n":420.75,"u":44.873,"lo":44.516},{"n":422.8,"u":44.857,"lo":44.500},{"n":424.1,"u":44.859,"lo":44.502},{"n":425.3,"u":44.881,"lo":44.523},{"n":427,"u":44.891,"lo":44.533},{"n":429.5,"u":44.900,"lo":44.540}
],
"ma": [
{"n":0,"p":42.726},{"n":21,"p":42.808},{"n":66.25,"p":42.984},{"n":109.5,"p":43.153},{"n":163.75,"p":43.365},{"n":217,"p":43.572},{"n":267.75,"p":43.769},{"n":324.5,"p":43.988},{"n":357,"p":44.126},{"n":399.5,"p":44.292},{"n":413.75,"p":44.350},{"n":430.75,"p":44.420}
],
"chan": [
{"n":22.75,"p":43.1552,"g":"top"},{"n":466.25,"p":44.9204,"g":"top"},
{"n":0,"p":42.9026,"g":"bottom"},{"n":466.25,"p":44.7539,"g":"bottom"}
],
"dash": [{"p":44.85},{"p":44.79},{"p":44.74},{"p":44.66},{"p":44.60}],
"yt": [
{"p":42.81095,"t":"42.81095"},{"p":42.8885,"t":"42.88850"},{"p":42.96605,"t":"42.96605"},{"p":43.04595,"t":"43.04595"},{"p":43.1235,"t":"43.12350"},{"p":43.2034,"t":"43.20340"},{"p":43.28095,"t":"43.28095"},{"p":43.3585,"t":"43.35850"},{"p":43.4384,"t":"43.43840"},{"p":43.51595,"t":"43.51595"},{"p":43.59585,"t":"43.59585"},{"p":43.6734,"t":"43.67340"},{"p":43.75095,"t":"43.75095"},{"p":43.83085,"t":"43.83085"},{"p":43.9084,"t":"43.90840"},{"p":43.9883,"t":"43.98830"},{"p":44.06585,"t":"44.06585"},{"p":44.14575,"t":"44.14575"},{"p":44.2233,"t":"44.22330"},{"p":44.30085,"t":"44.30085"},{"p":44.38075,"t":"44.38075"},{"p":44.4583,"t":"44.45830"},{"p":44.5382,"t":"44.53820"},{"p":44.61575,"t":"44.61575"},{"p":44.6933,"t":"44.69330"},{"p":44.7732,"t":"44.77320"},{"p":44.93065,"t":"44.93065"}
],
"tags": [
{"p":44.85,"t":"44.85000"},{"p":44.79,"t":"44.79000"},{"p":44.74,"t":"44.74000"},{"p":44.7195,"t":"44.71950"},{"p":44.66,"t":"44.66000"},{"p":44.60,"t":"44.60000"}
],
"big": [{"p":44.90,"t":"44.90000"},{"p":44.54,"t":"44.54000"},{"p":44.42,"t":"44.42000"}]
},
"layer": [
{
  "data": {"values": [{"p": 44.6635}]},
  "mark": {"type": "tick", "orient": "horizontal", "size": 56, "thickness": 8, "color": "#1EE886", "opacity": 1},
  "encoding": {
    "x": {"datum": 434.75, "type": "quantitative", "title": null, "scale": {"domain": [-0.125, 466.125], "nice": false, "zero": false},
      "axis": {"values": [0,16,32,48,64,80,96,112,128,144,160,176,192,208,224,240,256,272,288,304,320,336,352,368,384,400,416], "title": null, "labelAlign": "left", "labelDx": 2, "labelBaseline": "top", "labelPadding": 1, "labelOverlap": false, "labelFlush": false,
        "labelExpr": "['5 Jan 2026','8 Jan 01:06','12 Jan 17:06','15 Jan 09:06','20 Jan 01:06','22 Jan 17:06','27 Jan 09:06','30 Jan 05:06','3 Feb 21:06','6 Feb 13:06','11 Feb 05:06','13 Feb 21:06','18 Feb 13:06','23 Feb 05:06','25 Feb 21:06','2 Mar 13:06','5 Mar 05:06','9 Mar 20:06','12 Mar 12:06','17 Mar 04:06','19 Mar 20:06','24 Mar 12:06','27 Mar 04:06','31 Mar 20:06','3 Apr 12:06','8 Apr 04:06','10 Apr 20:06'][round(datum.value/16)]"}},
    "y": {"field": "p", "type": "quantitative", "title": null, "scale": {"domain": [42.8055, 44.9466], "nice": false, "zero": false},
      "axis": {"orient": "right", "title": null, "labels": false, "values": [42.81095,42.8885,42.96605,43.04595,43.1235,43.2034,43.28095,43.3585,43.4384,43.51595,43.59585,43.6734,43.75095,43.83085,43.9084,43.9883,44.06585,44.14575,44.2233,44.30085,44.38075,44.4583,44.5382,44.61575,44.6933,44.7732,44.8531,44.93065]}}
  }
},
{
  "data": {"values": [{"p": 44.7195}]},
  "mark": {"type": "rule", "color": "#C0C0C0", "strokeWidth": 1},
  "encoding": {"y": {"field": "p", "type": "quantitative", "title": null}}
},
{
  "data": {"name": "dash"},
  "mark": {"type": "rule", "color": "black", "strokeWidth": 1, "strokeDash": [3, 3]},
  "encoding": {"y": {"field": "p", "type": "quantitative", "title": null}}
},
{
  "data": {"name": "chan"},
  "mark": {"type": "line", "color": "#3CB371", "strokeWidth": 1, "clip": true},
  "encoding": {
    "x": {"field": "n", "type": "quantitative", "title": null},
    "y": {"field": "p", "type": "quantitative", "title": null},
    "detail": {"field": "g"}
  }
},
{
  "data": {"name": "env"},
  "mark": {"type": "line", "color": "#FF00FF", "strokeWidth": 1.3, "clip": true},
  "encoding": {
    "x": {"field": "n", "type": "quantitative", "title": null},
    "y": {"field": "u", "type": "quantitative", "title": null}
  }
},
{
  "data": {"name": "env"},
  "mark": {"type": "line", "color": "#FF00FF", "strokeWidth": 1.3, "clip": true},
  "encoding": {
    "x": {"field": "n", "type": "quantitative", "title": null},
    "y": {"field": "lo", "type": "quantitative", "title": null}
  }
},
{
  "data": {"name": "ma"},
  "mark": {"type": "line", "color": "#008080", "strokeWidth": 3, "clip": true},
  "encoding": {
    "x": {"field": "n", "type": "quantitative", "title": null},
    "y": {"field": "p", "type": "quantitative", "title": null}
  }
},
{
  "data": {"name": "k"},
  "mark": {"type": "rule", "color": "black", "strokeWidth": 1},
  "encoding": {
    "x": {"field": "n", "type": "quantitative", "title": null},
    "y": {"field": "l", "type": "quantitative", "title": null},
    "y2": {"field": "h"}
  }
},
{
  "data": {"name": "k"},
  "mark": {"type": "bar", "size": 2, "stroke": "black", "strokeWidth": 1},
  "encoding": {
    "x": {"field": "n", "type": "quantitative", "title": null},
    "y": {"field": "o", "type": "quantitative", "title": null},
    "y2": {"field": "c"},
    "fill": {"condition": {"test": "datum.c >= datum.o", "value": "white"}, "value": "black"}
  }
},
{
  "data": {"name": "yt"},
  "mark": {"type": "text", "font": "Liberation Sans", "fontSize": 9, "color": "black", "align": "left", "baseline": "middle"},
  "encoding": {
    "x": {"datum": 467.75, "type": "quantitative", "title": null},
    "y": {"field": "p", "type": "quantitative", "title": null},
    "text": {"field": "t"}
  }
},
{
  "data": {"name": "big"},
  "mark": {"type": "rule", "color": "black", "strokeWidth": 1},
  "encoding": {
    "x": {"datum": 430.2, "type": "quantitative", "title": null},
    "x2": {"datum": 432.75},
    "y": {"field": "p", "type": "quantitative", "title": null}
  }
},
{
  "data": {"name": "big"},
  "mark": {"type": "tick", "orient": "horizontal", "size": 83, "thickness": 24, "fill": "white", "stroke": "black", "strokeWidth": 1, "opacity": 1},
  "encoding": {
    "x": {"datum": 443.1, "type": "quantitative", "title": null},
    "y": {"field": "p", "type": "quantitative", "title": null}
  }
},
{
  "data": {"name": "big"},
  "mark": {"type": "text", "font": "Liberation Sans", "fontSize": 20, "color": "black", "align": "center", "baseline": "middle", "dy": 1},
  "encoding": {
    "x": {"datum": 443.1, "type": "quantitative", "title": null},
    "y": {"field": "p", "type": "quantitative", "title": null},
    "text": {"field": "t"}
  }
},
{
  "data": {"name": "tags"},
  "mark": {"type": "tick", "orient": "horizontal", "size": 42, "thickness": 9, "color": "black", "opacity": 1},
  "encoding": {
    "x": {"datum": 472.0, "type": "quantitative", "title": null},
    "y": {"field": "p", "type": "quantitative", "title": null}
  }
},
{
  "data": {"name": "tags"},
  "mark": {"type": "text", "font": "Liberation Sans", "fontSize": 9, "color": "white", "align": "left", "baseline": "middle"},
  "encoding": {
    "x": {"datum": 467.75, "type": "quantitative", "title": null},
    "y": {"field": "p", "type": "quantitative", "title": null},
    "text": {"field": "t"}
  }
},
{
  "data": {"values": [{"t": "144 periyotluk ortalama"}]},
  "mark": {"type": "text", "font": "DejaVu Serif", "fontSize": 17.5, "color": "#008080", "align": "left", "baseline": "middle"},
  "encoding": {
    "x": {"datum": 294.25, "type": "quantitative", "title": null},
    "y": {"datum": 43.762, "type": "quantitative", "title": null},
    "text": {"field": "t"}
  }
},
{
  "data": {"values": [{"t": "USDTRY,H4  44.71860 44.73181 44.70530 44.71950"}]},
  "mark": {"type": "text", "font": "Liberation Sans", "fontSize": 9, "color": "black", "align": "left", "baseline": "middle"},
  "encoding": {
    "x": {"datum": 4.5, "type": "quantitative", "title": null},
    "y": {"datum": 44.9252, "type": "quantitative", "title": null},
    "text": {"field": "t"}
  }
},
{
  "data": {"values": [{"t": "arrow"}]},
  "mark": {"type": "point", "shape": "triangle-down", "size": 22, "filled": true, "color": "black", "opacity": 1},
  "encoding": {
    "x": {"datum": 2.6, "type": "quantitative", "title": null},
    "y": {"datum": 44.9252, "type": "quantitative", "title": null}
  }
}
]
}
